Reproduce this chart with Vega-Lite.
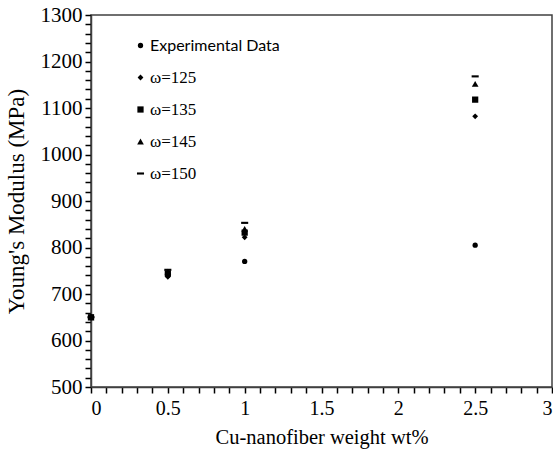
{
  "$schema": "https://vega.github.io/schema/vega-lite/v6.json",
  "width": 461,
  "height": 372,
  "autosize": "none",
  "padding": {"left": 91, "top": 15, "right": 1, "bottom": 68},
  "background": "white",
  "config": {
    "view": {"stroke": "#404040", "strokeWidth": 1.5},
    "axis": {"grid": false, "ticks": true, "tickOpacity": 1, "domainColor": "#404040", "domainWidth": 1.5, "tickColor": "black", "tickWidth": 1.5, "labelFont": "Liberation Serif", "titleFont": "Liberation Serif", "labelColor": "black", "titleColor": "black", "titleFontWeight": "normal"},
    "legend": {"labelFont": "Liberation Serif", "labelFontSize": 16}
  },
  "data": {
    "values": [
      {"x": 0, "y": 650, "series": "Experimental Data"},
      {"x": 0.5, "y": 740, "series": "Experimental Data"},
      {"x": 1, "y": 770, "series": "Experimental Data"},
      {"x": 2.5, "y": 805, "series": "Experimental Data"},
      {"x": 0, "y": 650, "series": "ω=125"},
      {"x": 0.5, "y": 737, "series": "ω=125"},
      {"x": 1, "y": 822, "series": "ω=125"},
      {"x": 2.5, "y": 1082, "series": "ω=125"},
      {"x": 0, "y": 650, "series": "ω=135"},
      {"x": 0.5, "y": 744, "series": "ω=135"},
      {"x": 1, "y": 832, "series": "ω=135"},
      {"x": 2.5, "y": 1118, "series": "ω=135"},
      {"x": 0, "y": 650, "series": "ω=145"},
      {"x": 0.5, "y": 748, "series": "ω=145"},
      {"x": 1, "y": 840, "series": "ω=145"},
      {"x": 2.5, "y": 1152, "series": "ω=145"},
      {"x": 0, "y": 650, "series": "ω=150"},
      {"x": 0.5, "y": 752, "series": "ω=150"},
      {"x": 1, "y": 853, "series": "ω=150"},
      {"x": 2.5, "y": 1168, "series": "ω=150"}
    ]
  },
  "mark": {"type": "point", "filled": true, "opacity": 1, "color": "black"},
  "encoding": {
    "x": {"field": "x", "type": "quantitative", "scale": {"domain": [0, 3], "nice": false},
          "axis": {"values": [0, 0.1, 0.2, 0.3, 0.4, 0.5, 0.6, 0.7, 0.8, 0.9, 1, 1.1, 1.2, 1.3, 1.4, 1.5, 1.6, 1.7, 1.8, 1.9, 2, 2.1, 2.2, 2.3, 2.4, 2.5, 2.6, 2.7, 2.8, 2.9, 3],
                   "labelExpr": "abs(datum.value * 2 - round(datum.value * 2)) < 0.001 ? datum.label : ''",
                   "ticks": true, "tickSize": 6, "tickColor": "black", "tickWidth": 1.5,
                   "format": "~g", "title": "Cu-nanofiber weight wt%", "labelFontSize": 20, "titleFontSize": 20.5, "labelPadding": 5, "titlePadding": 9}},
    "y": {"field": "y", "type": "quantitative", "scale": {"domain": [500, 1300], "nice": false, "zero": false},
          "axis": {"values": [500, 520, 540, 560, 580, 600, 620, 640, 660, 680, 700, 720, 740, 760, 780, 800, 820, 840, 860, 880, 900, 920, 940, 960, 980, 1000, 1020, 1040, 1060, 1080, 1100, 1120, 1140, 1160, 1180, 1200, 1220, 1240, 1260, 1280, 1300],
                   "labelExpr": "datum.value % 100 === 0 ? datum.label : ''",
                   "ticks": true, "tickSize": 6, "tickColor": "black", "tickWidth": 1.5,
                   "format": "d", "title": "Young's Modulus (MPa)", "labelFontSize": 21, "titleFontSize": 23, "labelPadding": 3, "titlePadding": 12}},
    "shape": {"field": "series", "type": "nominal",
              "scale": {"domain": ["Experimental Data", "ω=125", "ω=135", "ω=145", "ω=150"], "range": ["circle", "diamond", "square", "triangle-up", "M -1 -0.3 H 1 V 0.3 H -1 Z"]},
              "legend": {"title": null, "orient": "none", "legendX": 41, "legendY": 22, "labelFont": "Liberation Serif", "labelFontSize": 16, "rowPadding": 14, "symbolFillColor": "black", "symbolStrokeColor": "black", "labelOffset": 1,
                         "encoding": {"labels": {"font": {"value": {"expr": "datum.label === 'Experimental Data' ? 'Lato' : 'Liberation Serif'"}}, "fontSize": {"value": {"expr": "datum.label === 'Experimental Data' ? 16 : 17"}}}}}},
    "size": {"field": "series", "type": "nominal",
             "scale": {"domain": ["Experimental Data", "ω=125", "ω=135", "ω=145", "ω=150"], "range": [28, 50, 60, 55, 60]}},
    "order": {"field": "series"}
  }
}
